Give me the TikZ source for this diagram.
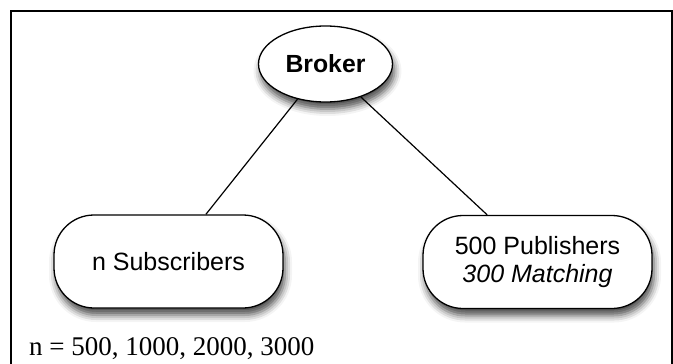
\documentclass[tikz,border=0pt]{standalone}
\usepackage{fontspec}
\setmainfont{Liberation Serif}
\setsansfont{Liberation Sans}
\usetikzlibrary{shapes.geometric,shadows.blur}
\begin{document}
\begin{tikzpicture}[x=1pt,y=-1pt,
  softshadow/.style={blur shadow={shadow xshift=2pt,shadow yshift=-7pt,shadow blur radius=7pt,shadow opacity=70}},
  brokerbox/.style={ellipse, draw, line width=1.3pt, fill=white,
    minimum width=134pt, minimum height=76pt, inner sep=0pt, softshadow,
    font=\sffamily\bfseries\fontsize{24.8}{28}\selectfont},
  clientbox/.style={rectangle, draw, line width=1.3pt, fill=white,
    rounded corners=40pt, minimum width=229pt, minimum height=93pt,
    inner sep=0pt, softshadow, align=center,
    font=\sffamily\fontsize{25}{28}\selectfont},
  link/.style={line width=1.2pt},
  frame/.style={line width=2pt}]
\useasboundingbox (0,0) rectangle (673,364);
% open frame around the setup
\draw[frame] (11,364) -- (11,11) -- (672,11) -- (672,364);
% broker and its clients
\node[brokerbox] (broker) at (325.5,64) {Broker};
\node[clientbox] (subs) at (168.5,261.5) {n Subscribers};
\node[clientbox] (pubs) at (537.5,262) {500 Publishers\\\itshape 300 Matching};
\draw[link] (broker) -- (subs);
\draw[link] (broker) -- (pubs);
% parameter values
\node[anchor=base west, inner sep=0pt, font=\fontsize{27}{30}\selectfont] (range) at (29,355) {n = 500, 1000, 2000, 3000};
\end{tikzpicture}
\end{document}
